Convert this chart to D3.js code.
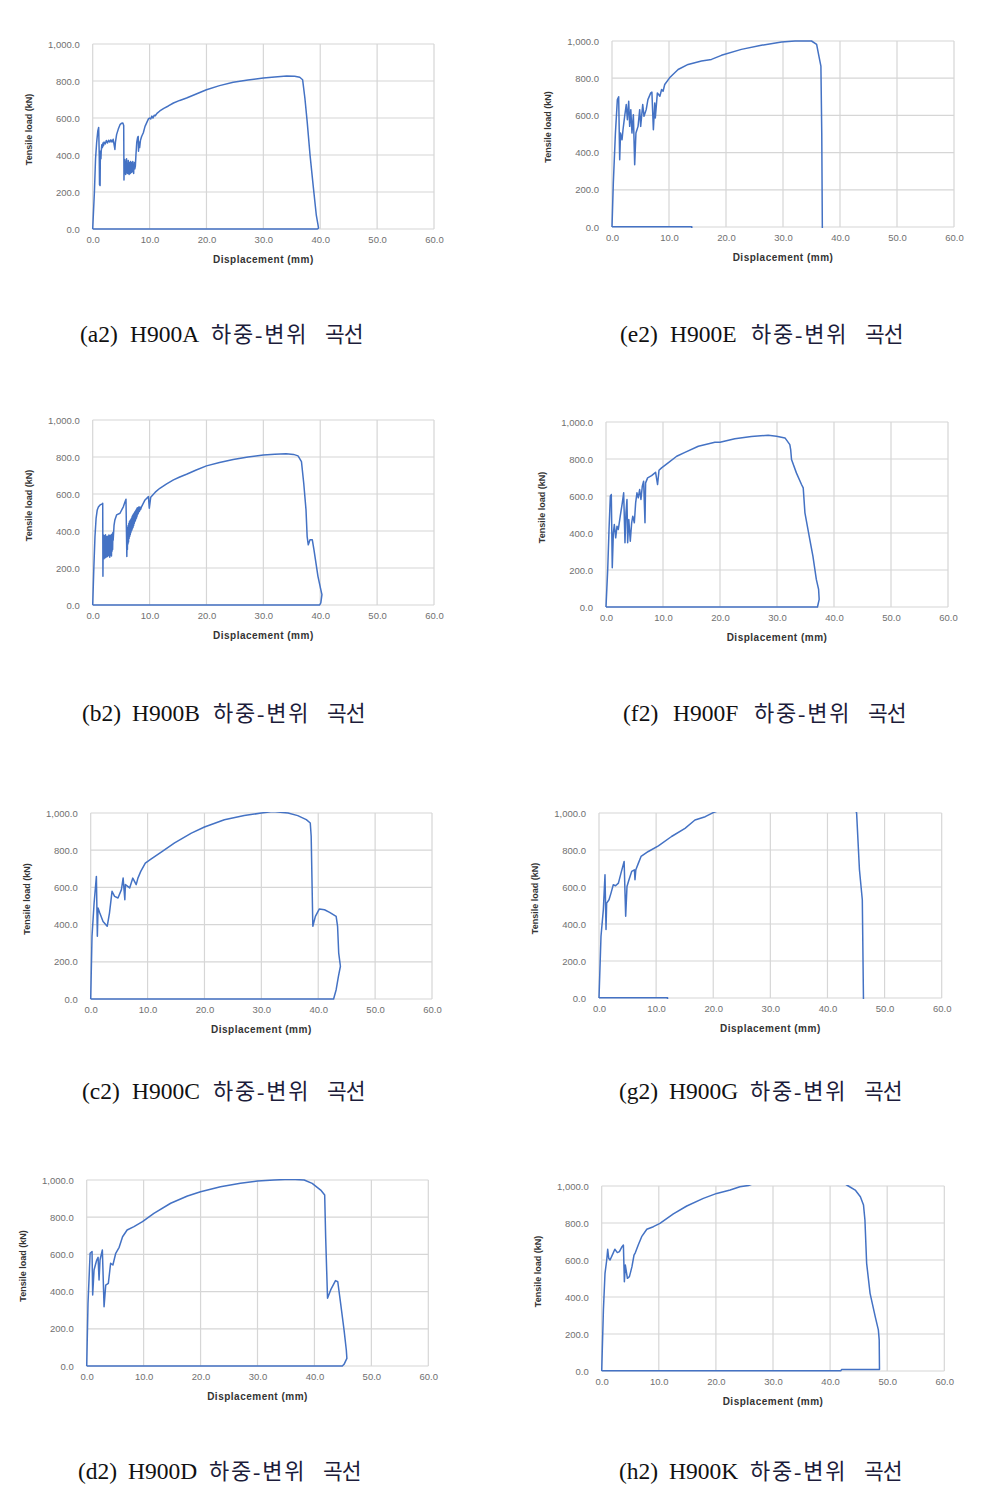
<!DOCTYPE html>
<html><head><meta charset="utf-8">
<script src="https://cdn.jsdelivr.net/npm/d3@7"></script>
<style>body{margin:0;background:#fff}svg{display:block}</style>
</head><body><svg id="c" width="989" height="1495"></svg>
<script>
// ---------- data ----------
const xTicks = [0, 10, 20, 30, 40, 50, 60];
const yTicks = [0, 200, 400, 600, 800, 1000];
const panelLabels = ["(a2)", "(e2)", "(b2)", "(f2)", "(c2)", "(g2)", "(d2)", "(h2)"];
const specimens = ["H900A", "H900E", "H900B", "H900F", "H900C", "H900G", "H900D", "H900K"];
const captionMiddle = "하중-변위";
const captionEnd = "곡선";
const xTitle = "Displacement (mm)";
const yTitle = "Tensile load (kN)";

const curveA2 = [[0,0],[0.3,200],[0.5,380],[0.7,470],[0.9,530],[1.05,549],[1.15,400],[1.2,240],[1.3,235],[1.35,420],[1.45,380],[1.5,420],[1.6,455],[1.7,440],[1.8,465],[1.9,450],[2.0,470],[2.2,460],[2.4,478],[2.6,465],[2.8,480],[3.0,470],[3.2,482],[3.4,470],[3.6,485],[3.8,450],[3.9,430],[4.0,470],[4.2,510],[4.5,540],[4.8,564],[5.1,572],[5.3,573],[5.45,560],[5.5,265],[5.55,370],[5.6,300],[5.65,375],[5.7,310],[5.75,360],[5.8,295],[5.85,365],[5.9,320],[5.95,380],[6.0,305],[6.05,355],[6.1,300],[6.15,350],[6.2,310],[6.25,370],[6.3,300],[6.35,345],[6.4,295],[6.45,360],[6.5,310],[6.55,350],[6.6,300],[6.65,365],[6.7,315],[6.75,345],[6.8,305],[6.85,360],[6.9,320],[6.95,350],[7.0,310],[7.05,365],[7.1,320],[7.15,340],[7.2,300],[7.25,350],[7.3,330],[7.35,360],[7.4,325],[7.5,340],[7.6,400],[7.75,470],[7.9,495],[8.0,500],[8.05,420],[8.15,470],[8.25,440],[8.4,480],[8.6,500],[8.9,520],[9.2,555],[9.5,575],[9.8,595],[10.0,600],[10.2,595],[10.4,610],[10.6,600],[10.8,615],[11.0,612],[11.3,625],[11.8,638],[12.5,652],[13.3,665],[14.2,681],[15.3,695],[16.5,708],[18.2,730],[20.0,753],[22.3,775],[24.7,793],[27.3,806],[30.0,816],[32.0,822],[34.1,827],[35.5,826],[36.4,820],[36.9,807],[37.3,708],[37.7,582],[38.2,402],[38.8,222],[39.3,77],[39.6,23],[39.7,5],[39.5,0],[0,0]];

const curveE2 = [[0,0],[0.23,236],[0.6,505],[0.94,685],[1.17,700],[1.35,362],[1.5,505],[1.76,469],[1.93,523],[2.22,595],[2.5,658],[2.7,577],[2.93,676],[3.1,541],[3.3,631],[3.5,505],[3.75,604],[3.98,335],[4.2,505],[4.57,541],[4.86,631],[5.03,541],[5.39,658],[5.62,595],[6.0,631],[6.3,685],[6.8,721],[7.0,725],[7.26,523],[7.5,667],[7.6,586],[7.96,721],[8.4,703],[8.7,739],[8.96,730],[9.25,766],[10.1,802],[11.6,847],[13.35,874],[15.7,892],[17.45,901],[19.2,923],[22.7,955],[26.2,977],[29.75,995],[32.1,1000],[35.0,1000],[35.9,982],[36.3,919],[36.65,865],[36.8,505],[36.9,0],[36.9,-12],[14,-12],[14,2],[0,2]];

const curveB2 = [[0,0],[0.2,200],[0.4,370],[0.6,470],[0.8,514],[1.0,530],[1.3,541],[1.6,545],[1.76,550],[1.8,155],[1.85,380],[1.9,260],[1.95,370],[2.0,250],[2.05,375],[2.1,265],[2.15,360],[2.2,255],[2.25,380],[2.3,270],[2.35,365],[2.4,260],[2.45,370],[2.5,280],[2.55,355],[2.6,262],[2.65,372],[2.7,275],[2.75,360],[2.8,268],[2.85,378],[2.9,272],[2.95,362],[3.0,258],[3.05,375],[3.1,285],[3.15,368],[3.2,270],[3.25,380],[3.3,265],[3.35,370],[3.4,290],[3.45,385],[3.5,300],[3.55,392],[3.6,350],[3.75,430],[3.9,460],[4.2,487],[4.8,496],[5.4,532],[5.7,560],[5.85,572],[6.0,262],[6.05,380],[6.1,300],[6.15,420],[6.2,330],[6.25,430],[6.3,340],[6.35,440],[6.4,360],[6.45,450],[6.5,370],[6.55,455],[6.6,380],[6.65,460],[6.7,390],[6.75,465],[6.8,400],[6.85,470],[6.9,405],[6.95,480],[7.0,415],[7.05,485],[7.1,420],[7.15,490],[7.2,430],[7.25,495],[7.3,440],[7.35,500],[7.4,450],[7.45,505],[7.5,455],[7.55,510],[7.6,465],[7.65,515],[7.7,470],[7.75,520],[7.8,480],[7.85,525],[7.9,490],[7.95,525],[8.0,495],[8.1,530],[8.2,505],[8.3,530],[8.4,515],[8.6,532],[9.2,568],[9.8,586],[9.95,523],[10.2,583],[11.0,610],[11.8,631],[13.0,655],[14.2,676],[15.3,692],[16.5,707],[18.2,730],[20.0,752],[22.3,770],[24.7,786],[27.3,800],[30.0,811],[32.0,815],[34.0,817],[35.3,814],[36.1,806],[36.7,775],[37.1,658],[37.5,514],[37.7,370],[37.9,325],[38.2,353],[38.6,353],[38.9,298],[39.6,155],[40.1,83],[40.3,56],[40.1,11],[39.9,0],[0,0]];

const curveF2 = [[0,0],[0.3,203],[0.53,419],[0.76,599],[0.93,608],[1.1,212],[1.29,401],[1.46,446],[1.7,374],[1.93,437],[2.16,419],[2.5,491],[2.86,563],[3.1,617],[3.33,347],[3.5,509],[3.68,581],[3.8,347],[4.0,473],[4.26,356],[4.5,455],[4.7,491],[4.97,455],[5.2,563],[5.43,617],[5.66,590],[5.9,635],[6.13,581],[6.37,653],[6.6,680],[6.84,455],[6.95,671],[7.3,698],[8.0,710],[8.7,728],[9.05,662],[9.3,739],[9.75,752],[10.9,779],[12.4,815],[13.85,836],[16.2,869],[19.1,890],[20.0,890],[22.6,910],[25.5,922],[28.45,928],[29.9,923],[31.4,914],[32.25,878],[32.4,851],[32.55,797],[33.4,725],[34.3,662],[34.6,644],[34.9,509],[35.75,365],[36.3,275],[36.9,149],[37.3,95],[37.4,41],[37.1,0],[0,0]];

const curveC2 = [[0,0],[0.23,337],[0.6,516],[1.0,659],[1.17,337],[1.29,489],[1.6,462],[2.17,417],[2.9,391],[3.3,462],[3.75,579],[4.2,552],[4.8,543],[5.4,588],[5.7,650],[6.0,534],[6.1,615],[6.85,597],[7.4,650],[8.0,615],[8.3,650],[8.8,686],[9.6,731],[10.65,753],[12.4,789],[14.75,839],[17.7,892],[20.0,925],[23.5,964],[27.0,986],[30.0,1000],[32.0,1008],[34.7,1000],[36.4,986],[37.9,964],[38.6,946],[38.76,875],[39.05,391],[39.5,444],[40.2,484],[41.1,480],[42.0,466],[43.15,444],[43.4,391],[43.6,247],[43.9,176],[43.55,122],[43.15,50],[42.7,0],[0,0]];

const curveG2 = [[0,0],[0.35,334],[0.76,478],[1.05,666],[1.23,370],[1.34,513],[1.75,531],[2.1,567],[2.5,612],[2.9,607],[3.4,621],[3.85,675],[4.4,738],[4.67,442],[4.9,603],[5.25,639],[5.72,684],[6.2,693],[6.3,639],[6.45,693],[6.9,729],[7.36,765],[8.64,792],[10.4,822],[12.7,873],[15.06,917],[16.8,962],[18.6,980],[20.0,1002],[25,1060],[30,1100],[35,1120],[40,1110],[44,1050],[45.1,1002],[45.6,693],[46.1,531],[46.3,0],[46.3,-12],[12,-12],[12,2],[0,2]];

const curveD2 = [[0,0],[0.23,337],[0.6,606],[0.94,615],[1.05,382],[1.29,516],[1.76,570],[2.0,584],[2.17,462],[2.34,570],[2.75,624],[3.05,319],[3.34,435],[3.8,444],[4.2,552],[4.6,543],[5.1,606],[5.7,638],[6.3,695],[7.1,731],[8.3,749],[9.8,776],[11.8,821],[14.75,875],[17.7,914],[20.0,937],[23.5,964],[27.0,982],[30.0,994],[32.9,1000],[35.8,1004],[38.2,1000],[39.6,982],[41.1,946],[41.8,919],[41.97,695],[42.3,364],[42.85,409],[43.7,459],[44.1,453],[44.6,337],[45.2,194],[45.6,86],[45.7,41],[45.2,9],[44.9,0],[0,0]];

const curveH2 = [[0,0],[0.3,330],[0.58,528],[0.88,600],[1.05,658],[1.23,609],[1.46,600],[1.93,632],[2.3,658],[2.74,640],[3.1,645],[3.56,672],[3.8,681],[3.97,483],[4.14,573],[4.5,501],[4.85,510],[5.08,537],[5.3,564],[5.66,627],[5.9,640],[6.4,681],[7.0,726],[7.9,766],[9.05,780],[10.2,798],[12.55,849],[14.9,892],[17.8,933],[20.15,960],[22.5,978],[24.2,996],[25.7,1003],[30,1050],[35,1080],[40,1060],[43.2,1000],[44.4,978],[45.3,942],[45.85,897],[46.1,816],[46.4,582],[47.0,420],[47.9,294],[48.45,222],[48.6,168],[48.65,8],[42,8],[41.9,2],[0,2]];

const curves = [curveA2, curveE2, curveB2, curveF2, curveC2, curveG2, curveD2, curveH2];

// ---------- layout ----------
const boxes = [
  {x0: 92.7, x1: 434,   yt: 44,   yb: 229},
  {x0: 612,  x1: 954,   yt: 41,   yb: 227},
  {x0: 92.7, x1: 434,   yt: 420,  yb: 605},
  {x0: 606,  x1: 948,   yt: 422,  yb: 607},
  {x0: 90.7, x1: 432,   yt: 813,  yb: 999},
  {x0: 599,  x1: 941.7, yt: 813,  yb: 998},
  {x0: 86.7, x1: 428.3, yt: 1180, yb: 1366},
  {x0: 601.7,x1: 944.3, yt: 1186, yb: 1371}
];
const capPos = [[80,342],[620,342],[82,721],[623,721],[82,1099],[619,1099],[78,1479],[619,1479]];

const svg = d3.select("#c");
const tickFont = "'Liberation Sans', Arial, sans-serif";

curves.forEach((data, i) => {
  const b = boxes[i];
  const x = d3.scaleLinear().domain([0, 60]).range([b.x0, b.x1]);
  const y = d3.scaleLinear().domain([0, 1000]).range([b.yb, b.yt]);
  const g = svg.append("g");

  g.selectAll("line.hg").data(yTicks).join("line").attr("class", "hg")
    .attr("x1", b.x0).attr("x2", b.x1).attr("y1", d => y(d)).attr("y2", d => y(d))
    .attr("stroke", "#d6d6d6").attr("stroke-width", 1.2);
  g.selectAll("line.vg").data(xTicks).join("line").attr("class", "vg")
    .attr("y1", b.yt).attr("y2", b.yb).attr("x1", d => x(d)).attr("x2", d => x(d))
    .attr("stroke", "#d6d6d6").attr("stroke-width", 1.2);

  const xa = g.append("g").attr("transform", `translate(0,${b.yb})`)
    .call(d3.axisBottom(x).tickValues(xTicks).tickFormat(d3.format(".1f")).tickSize(0).tickPadding(7.5));
  const ya = g.append("g").attr("transform", `translate(${b.x0},0)`)
    .call(d3.axisLeft(y).tickValues(yTicks).tickFormat(d3.format(",.1f")).tickSize(0).tickPadding(13));
  [xa, ya].forEach(a => {
    a.select(".domain").remove();
    a.selectAll("text").attr("font-family", tickFont).attr("font-size", 9.5).attr("fill", "#707070");
  });

  const clipId = "clip" + i;
  svg.append("clipPath").attr("id", clipId).append("rect")
    .attr("x", b.x0 - 3).attr("y", b.yt - 1).attr("width", b.x1 - b.x0 + 6).attr("height", b.yb - b.yt + 2);

  g.append("path").datum(data)
    .attr("clip-path", `url(#${clipId})`)
    .attr("fill", "none").attr("stroke", "#4472C4").attr("stroke-width", 1.5)
    .attr("stroke-linejoin", "round")
    .attr("d", d3.line().x(d => x(d[0])).y(d => y(d[1])));

  g.append("text").attr("transform", `translate(${b.x0 - 64},${(b.yt + b.yb) / 2 - 7}) rotate(-90)`)
    .attr("text-anchor", "middle").attr("dy", "0.35em")
    .attr("font-family", tickFont).attr("font-size", 9).attr("font-weight", "bold").attr("fill", "#333")
    .text(yTitle);
  g.append("text").attr("x", (b.x0 + b.x1) / 2).attr("y", b.yb + 30)
    .attr("text-anchor", "middle").attr("dy", "0.35em")
    .attr("font-family", tickFont).attr("font-size", 10).attr("letter-spacing", 0.5)
    .attr("font-weight", "bold").attr("fill", "#333")
    .text(xTitle);

  const [cx, cy] = capPos[i];
  const cap = svg.append("text").attr("y", cy)
    .attr("font-family", "'Liberation Serif', 'Noto Sans CJK KR', serif").attr("font-size", 23.5).attr("fill", "#111");
  cap.append("tspan").attr("x", cx).text(panelLabels[i]);
  cap.append("tspan").attr("x", cx + 50).text(specimens[i]);
  cap.append("tspan").attr("x", cx + 131).attr("font-size", 22).attr("letter-spacing", 1.8).attr("fill", "#1c1c3a").text(captionMiddle);
  cap.append("tspan").attr("x", cx + 245).attr("font-size", 21.5).attr("letter-spacing", -1).attr("fill", "#1c1c3a").text(captionEnd);
});
</script></body></html>
